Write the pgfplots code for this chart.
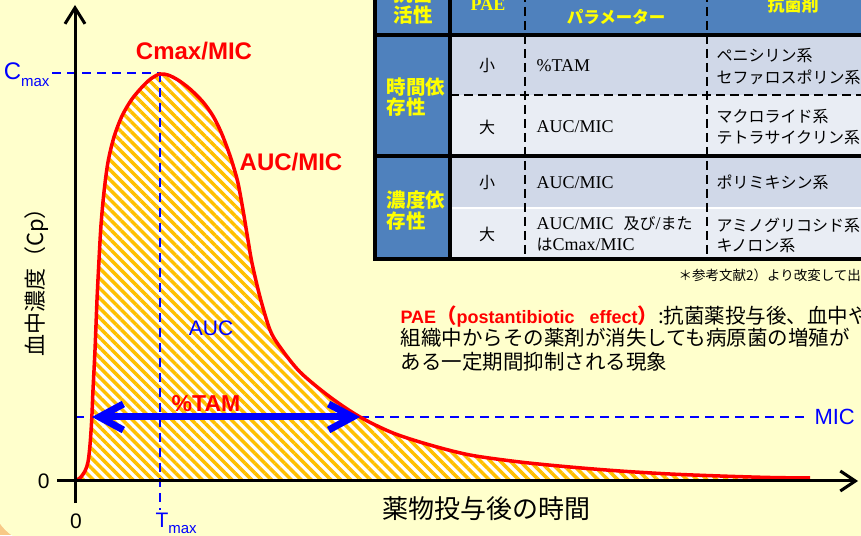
\documentclass[border=0pt]{standalone}
\usepackage{pgfplots}
\usepackage{pgfplotstable}
\pgfplotsset{compat=1.18}
\usepackage{fontspec}
\setmainfont{Noto Sans CJK JP}
\newfontfamily\lat{Liberation Sans}
\newfontfamily\ser{Liberation Serif}
\usetikzlibrary{arrows.meta,patterns.meta}

\definecolor{bgyellow}{HTML}{FFFFCC}
\definecolor{bgorange}{HTML}{F8C987}
\definecolor{hatch}{HTML}{FFC000}
\definecolor{tblue}{HTML}{4F81BD}
\definecolor{rowA}{HTML}{D0D8E8}
\definecolor{rowB}{HTML}{E9EDF4}
\definecolor{tyellow}{HTML}{FFFF00}

\newcommand\fs[1]{\fontsize{#1}{#1}\selectfont}

% plasma concentration after dosing (arbitrary units)
\pgfplotstableread{
t c
0 0
5 3
10 10
13 19
15 36
16.7 61
18 91
20 131
22 181
24 221
26 256
29 289
33 319
39 344
47 365
57 382
69 396
77 403
85 407
93 406
103 401
115 392
128 379
138 365
146 349
153 331
158 316
163 298
168 271
173 241
177 218
185 184
195 151
205 134
225 109
255 84
285 64
318 48
355 36
395 26
445 19
495 14
545 10
595 7
645 5
695 3.5
735 3
}\curve

\begin{document}
\begin{tikzpicture}
% slide background
\fill[bgorange] (0,0) rectangle (861pt,535pt);
\fill[bgyellow, rounded corners=45pt] (-8pt,-8pt) rectangle (920pt,600pt);

\begin{axis}[
    at={(0,0)}, anchor=south west,
    scale only axis, width=861pt, height=535pt,
    xmin=-75, xmax=786, ymin=-54, ymax=481,
    hide axis, clip=false,
    every node/.style={inner sep=0pt},
]
% ---- table ----
\fill[tblue] (axis cs:300,530) rectangle (axis cs:830,446);
\fill[tblue] (axis cs:300,446) rectangle (axis cs:375,222);
\fill[rowA] (axis cs:375,446) rectangle (axis cs:830,386);
\fill[rowB] (axis cs:375,386) rectangle (axis cs:830,325);
\fill[rowA] (axis cs:375,325) rectangle (axis cs:830,273);
\fill[rowB] (axis cs:375,273) rectangle (axis cs:830,222);
\draw[white, line width=2pt] (axis cs:375,273) -- (axis cs:830,273);
\draw[black, line width=2.5pt, dash pattern=on 9pt off 5pt]
    (axis cs:375,386) -- (axis cs:830,386)
    (axis cs:450,530) -- (axis cs:450,222)
    (axis cs:632,530) -- (axis cs:632,222);
\draw[black, line width=3.5pt]
    (axis cs:300,530) -- (axis cs:300,222) -- (axis cs:830,222)
    (axis cs:375,530) -- (axis cs:375,222)
    (axis cs:300,446) -- (axis cs:830,446)
    (axis cs:300,325) -- (axis cs:830,325);

\node[tyellow] at (axis cs:338,487) {\bfseries\fs{19.5}抗菌};
\node[tyellow] at (axis cs:338,466) {\bfseries\fs{19.5}活性};
\node[tyellow] at (axis cs:413,476) {\ser\bfseries\fs{18}PAE};
\node[tyellow] at (axis cs:541,491) {\ser\bfseries\fs{18}PK/PD};
\node[tyellow] at (axis cs:541,464) {\bfseries\fs{16.5}パラメーター};
\node[tyellow] at (axis cs:718,476) {\bfseries\fs{17}抗菌剤};

\node[tyellow, anchor=west] at (axis cs:308,394) {\bfseries\fs{19.5}時間依};
\node[tyellow, anchor=west] at (axis cs:308,374) {\bfseries\fs{19.5}存性};
\node[tyellow, anchor=west] at (axis cs:308,281) {\bfseries\fs{19.5}濃度依};
\node[tyellow, anchor=west] at (axis cs:308,260) {\bfseries\fs{19.5}存性};

\node at (axis cs:412,415) {\fs{16}小};
\node at (axis cs:412,354) {\fs{16}大};
\node at (axis cs:412,298) {\fs{16}小};
\node at (axis cs:412,247) {\fs{16}大};

\node[anchor=west] at (axis cs:458,415) {\ser\fs{18}\%TAM};
\node[anchor=west] at (axis cs:458,354) {\ser\fs{18}AUC/MIC};
\node[anchor=west] at (axis cs:458,298) {\ser\fs{18}AUC/MIC};
\node[anchor=west] at (axis cs:458,257) {{\ser\fs{18}AUC/MIC}\hspace{10pt}{\fs{16}及び}{\ser\fs{18}/}{\fs{16}また}};
\node[anchor=west] at (axis cs:458,236) {{\fs{16}は}{\ser\fs{18}Cmax/MIC}};

\node[anchor=west] at (axis cs:638,425) {\fs{16}ペニシリン系};
\node[anchor=west] at (axis cs:638,404) {\fs{16}セファロスポリン系};
\node[anchor=west] at (axis cs:638,364) {\fs{16}マクロライド系};
\node[anchor=west] at (axis cs:638,343) {\fs{16}テトラサイクリン系};
\node[anchor=west] at (axis cs:638,299) {\fs{16}ポリミキシン系};
\node[anchor=west] at (axis cs:638,256) {\fs{16}アミノグリコシド系};
\node[anchor=west] at (axis cs:638,235) {\fs{16}キノロン系};

\node[anchor=west] at (axis cs:600,206) {\fs{13.5}＊参考文献2）より改変して出典};

% ---- PAE note ----
\node[anchor=west] at (axis cs:322,164) {{\color{red}{\lat\bfseries\fs{18}PAE}{\bfseries\fs{20.5}（}{\lat\bfseries\fs{18}postantibiotic\ \ \ effect}{\bfseries\fs{20.5}）}}{\fs{20.5}:抗菌薬投与後、血中や}};
\node[anchor=west] at (axis cs:322,143) {\fs{20.5}組織中からその薬剤が消失しても病原菌の増殖が};
\node[anchor=west] at (axis cs:322,119) {\fs{20.5}ある一定期間抑制される現象};

% ---- concentration curve ----
\addplot[draw=none, fill=white, smooth, tension=0.5,
    postaction={pattern={Lines[angle=-45,distance=7pt,line width=3.5pt]}, pattern color=hatch}]
    table[x=t, y=c] {\curve} \closedcycle;

\draw[blue, line width=2pt, dash pattern=on 9pt off 6pt]
    (axis cs:-23,408) -- (axis cs:85,408)
    (axis cs:85,408) -- (axis cs:85,-29)
    (axis cs:0,64) -- (axis cs:733,64);

\addplot[red, line width=3.5pt, smooth, tension=0.5] table[x=t, y=c] {\curve};

\draw[blue, line width=7pt,
    {Straight Barb[length=24pt,width=26pt]}-{Straight Barb[length=24pt,width=26pt]}]
    (axis cs:17,64) -- (axis cs:285,64);

% axes
\draw[black, line width=3pt, -{Straight Barb[length=16pt,width=20pt]}]
    (axis cs:0,-22) -- (axis cs:0,476);
\draw[black, line width=3pt, -{Straight Barb[length=15pt,width=20pt]}]
    (axis cs:-18,0) -- (axis cs:783,0);

\node[anchor=base east] at (axis cs:-22,-7) {\lat\fs{21}0};
\node[anchor=base] at (axis cs:1,-47) {\lat\fs{21}0};

\node[anchor=base east, blue] at (axis cs:-22,401) {\lat\fs{24}C\raisebox{-7pt}{\fs{15}max}};
\node[anchor=base west, blue] at (axis cs:77,-46) {\lat\fs{21}T\raisebox{-6pt}{\fs{15}max}};
\node[anchor=base west, blue] at (axis cs:736,56) {\lat\fs{22}MIC};

\node[red] at (axis cs:119,430) {\lat\bfseries\fs{24}Cmax/MIC};
\node[red] at (axis cs:216,319) {\lat\bfseries\fs{24}AUC/MIC};
\node[red] at (axis cs:131,77) {\lat\bfseries\fs{23}\%TAM};
\node[blue] at (axis cs:136,153) {\lat\fs{21}AUC};

\node[rotate=90] at (axis cs:-38,204) {\fs{22}血中濃度（Cp）};
\node at (axis cs:411,-28) {\fs{26}薬物投与後の時間};
\end{axis}
\pgfresetboundingbox
\path (0,0) rectangle (861pt,535pt);
\end{tikzpicture}
\end{document}
